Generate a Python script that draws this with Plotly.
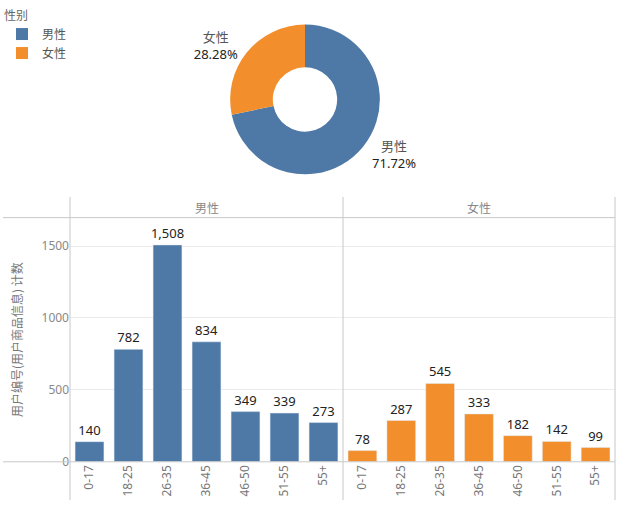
import plotly.graph_objects as go

age_groups = ["0-17", "18-25", "26-35", "36-45", "46-50", "51-55", "55+"]
male_counts = [140, 782, 1508, 834, 349, 339, 273]
female_counts = [78, 287, 545, 333, 182, 142, 99]
genders = ["男性", "女性"]
gender_totals = [sum(male_counts), sum(female_counts)]
colors = {"男性": "#4e79a7", "女性": "#f28e2b"}

W, H = 627, 522
def px(x):
    return x / W
def py(y):
    return 1 - y / H

CJK = "Noto Sans CJK SC"
NUM = "Noto Sans, Open Sans, sans-serif"

fig = go.Figure()

# donut
fig.add_trace(go.Pie(
    labels=genders, values=gender_totals, hole=0.43, sort=False,
    direction="clockwise", rotation=0,
    marker=dict(colors=[colors[g] for g in genders], line=dict(color="white", width=0)),
    texttemplate="<span style='font-family:" + CJK + ";color:#555'>%{label}</span><br>%{percent:.2%}",
    textposition="outside", textfont=dict(family=NUM, size=13, color="#222"),
    domain=dict(x=[px(229), px(381)], y=[py(177), py(25)]),
    showlegend=True, hoverinfo="label+percent",
))

# bars
for counts, g, xa, ya in [(male_counts, "男性", "x", "y"), (female_counts, "女性", "x2", "y2")]:
    fig.add_trace(go.Bar(
        x=age_groups, y=counts, marker_color=colors[g], width=0.74,
        texttemplate="%{y:,}", textposition="outside", cliponaxis=False,
        constraintext="none",
        textfont=dict(family=NUM, size=13, color="#222"),
        xaxis=xa, yaxis=ya, showlegend=False,
    ))

ydom = [py(469), py(221)]
yr = [0, 1698]
axis_x = dict(type="category", tickangle=-90, showgrid=False, zeroline=False,
              showline=False, ticks="", tickfont=dict(family=NUM, size=12, color="#777"),
              fixedrange=True)
fig.update_layout(
    width=W, height=H, margin=dict(l=0, r=0, t=0, b=0),
    paper_bgcolor="white", plot_bgcolor="white",
    font=dict(family=CJK, color="#555"),
    uniformtext=dict(mode=False),
    xaxis=dict(domain=[px(70), px(343)], anchor="y", **axis_x),
    xaxis2=dict(domain=[px(343), px(615)], anchor="y2", **axis_x),
    yaxis=dict(domain=ydom, range=yr, tickvals=[0, 500, 1000, 1500],
               showgrid=True, gridcolor="#ececec", zeroline=False, showline=False,
               ticks="", tickfont=dict(family=NUM, size=12, color="#888"),
               title=dict(text="用户编号(用户商品信息) 计数",
                          font=dict(family=CJK, size=12, color="#777"), standoff=16)),
    yaxis2=dict(domain=ydom, range=yr, tickvals=[0, 500, 1000, 1500], anchor="x2",
                showgrid=True, gridcolor="#ececec", zeroline=False, showline=False,
                showticklabels=False, ticks=""),
    legend=dict(x=px(2), y=py(4), xanchor="left", yanchor="top",
                title=dict(text="性别", font=dict(family=CJK, size=12, color="#666")),
                font=dict(family=CJK, size=12, color="#555"),
                itemwidth=30, tracegroupgap=2, bgcolor="rgba(0,0,0,0)"),
)

line = dict(color="#c8c8c8", width=1)
shapes = []
for xv in [70, 343, 615]:
    shapes.append(dict(type="line", xref="paper", yref="paper",
                       x0=px(xv), x1=px(xv), y0=py(200), y1=py(508), line=line))
for yv in [221, 469]:
    shapes.append(dict(type="line", xref="paper", yref="paper",
                       x0=px(3), x1=px(615), y0=py(yv), y1=py(yv), line=line))
fig.update_layout(shapes=shapes)

for i, g in enumerate(genders):
    fig.add_annotation(text=g, xref="x domain" if i == 0 else "x2 domain", yref="paper",
                       x=0.5, y=py(211), showarrow=False,
                       font=dict(family=CJK, size=12, color="#888"))

fig.write_html("out.html", config={"displayModeBar": False},
               post_script="document.body.style.margin='0';document.body.style.overflow='hidden';")
